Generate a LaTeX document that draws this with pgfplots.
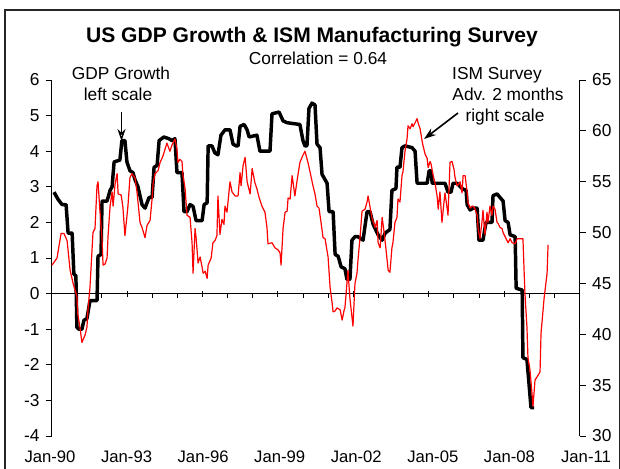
\documentclass[border=0pt]{standalone}
\usepackage{fontspec}
\setmainfont{Liberation Sans}
\usepackage{pgfplots}
\usepackage{pgfplotstable}
\pgfplotsset{compat=1.18}
\usetikzlibrary{arrows.meta}
\definecolor{ismred}{RGB}{255,0,0}

\pgfplotstableread{
t v
1990.10 2.85
1990.26 2.65
1990.42 2.50
1990.58 2.50
1990.66 1.70
1990.82 1.70
1990.89 0.55
1990.97 0.50
1991.01 -0.95
1991.09 -1.00
1991.21 -1.00
1991.29 -0.75
1991.41 -0.70
1991.53 -0.20
1991.81 -0.20
1991.85 1.05
1991.97 1.10
1992.01 2.60
1992.21 2.60
1992.33 2.90
1992.41 3.00
1992.49 3.70
1992.72 3.75
1992.80 4.30
1992.92 4.30
1993.00 3.70
1993.12 3.45
1993.24 3.40
1993.32 3.20
1993.44 3.00
1993.60 2.50
1993.72 2.40
1993.80 2.55
1993.88 2.70
1994.00 2.70
1994.08 3.55
1994.20 3.60
1994.28 4.30
1994.47 4.40
1994.67 4.35
1994.79 4.30
1994.91 4.35
1994.99 3.40
1995.19 3.40
1995.27 2.30
1995.39 2.30
1995.51 2.50
1995.63 2.45
1995.75 2.05
1995.99 2.05
1996.07 2.50
1996.19 2.55
1996.23 4.15
1996.38 4.15
1996.50 3.95
1996.62 3.90
1996.74 4.45
1996.90 4.60
1997.10 4.60
1997.22 4.20
1997.34 4.15
1997.42 4.15
1997.50 4.70
1997.66 4.75
1997.78 4.60
1997.86 4.40
1998.17 4.45
1998.29 4.00
1998.69 4.00
1998.77 5.05
1999.05 5.10
1999.21 4.85
1999.37 4.80
1999.88 4.75
2000.00 4.30
2000.08 4.15
2000.16 4.15
2000.24 5.20
2000.36 5.35
2000.48 5.30
2000.56 4.20
2000.68 4.10
2000.76 3.35
2000.96 3.10
2001.04 2.30
2001.20 2.30
2001.28 1.10
2001.40 1.05
2001.52 0.75
2001.67 0.70
2001.75 0.40
2001.87 0.40
2001.95 1.50
2002.07 1.60
2002.19 1.60
2002.39 1.50
2002.55 2.30
2002.67 2.30
2002.79 1.95
2002.99 1.65
2003.15 1.50
2003.27 1.70
2003.46 1.80
2003.54 2.90
2003.70 2.95
2003.74 3.55
2003.86 3.55
2003.94 4.10
2004.06 4.15
2004.34 4.10
2004.46 4.00
2004.54 3.10
2004.94 3.10
2005.02 3.45
2005.10 3.45
2005.14 3.10
2005.65 3.10
2005.77 2.85
2005.89 2.85
2005.97 3.10
2006.13 3.10
2006.33 2.95
2006.49 2.90
2006.53 2.50
2006.65 2.35
2006.77 2.40
2006.93 2.40
2007.00 1.50
2007.16 1.50
2007.28 2.00
2007.52 2.00
2007.56 2.75
2007.72 2.80
2007.96 2.60
2008.04 2.05
2008.16 2.00
2008.24 1.65
2008.44 1.60
2008.48 0.15
2008.72 0.10
2008.75 -1.80
2008.91 -1.85
2009.07 -3.20
2009.19 -3.20
}\gdp

\pgfplotstableread{
t v
1990.02 46.8
1990.22 47.5
1990.38 49.9
1990.50 49.9
1990.62 49.2
1990.74 46.3
1990.86 45.0
1991.01 43.7
1991.05 41.9
1991.13 40.7
1991.21 39.2
1991.33 39.9
1991.41 40.7
1991.45 42.4
1991.53 44.6
1991.65 50.0
1991.73 50.4
1991.81 54.6
1991.85 55.0
1991.93 52.0
1992.01 49.4
1992.05 46.8
1992.13 46.9
1992.21 47.5
1992.25 49.7
1992.33 52.6
1992.41 54.0
1992.45 52.6
1992.53 54.8
1992.61 55.8
1992.65 53.8
1992.77 53.7
1992.84 52.5
1992.92 49.7
1993.00 51.6
1993.04 52.6
1993.12 55.4
1993.20 55.8
1993.32 55.4
1993.40 54.0
1993.44 53.0
1993.52 51.0
1993.60 50.5
1993.72 49.5
1993.80 50.7
1993.92 51.2
1994.00 53.3
1994.04 54.8
1994.12 55.8
1994.24 56.1
1994.32 56.9
1994.43 57.5
1994.59 58.8
1994.71 58.0
1994.79 58.6
1994.91 59.2
1994.99 58.2
1995.03 56.9
1995.11 57.2
1995.19 57.0
1995.23 55.6
1995.31 54.4
1995.39 51.7
1995.51 51.5
1995.59 49.0
1995.63 46.0
1995.71 50.4
1995.75 49.5
1995.83 47.0
1995.91 47.6
1995.99 46.6
1996.03 46.0
1996.11 46.2
1996.19 45.5
1996.23 46.8
1996.35 47.5
1996.42 49.0
1996.50 49.2
1996.58 49.7
1996.62 53.6
1996.70 49.8
1996.78 51.3
1996.86 50.8
1996.90 52.6
1996.98 52.0
1997.10 55.0
1997.18 54.0
1997.30 53.6
1997.42 53.6
1997.50 55.9
1997.54 54.6
1997.62 56.6
1997.70 57.4
1997.78 55.0
1997.90 53.8
1997.98 56.3
1998.09 54.9
1998.17 54.3
1998.25 53.5
1998.37 52.6
1998.49 52.0
1998.57 50.5
1998.61 48.9
1998.77 49.0
1998.89 48.5
1999.01 48.3
1999.09 48.0
1999.13 46.8
1999.21 50.4
1999.29 52.0
1999.37 52.1
1999.41 53.4
1999.49 53.3
1999.57 55.6
1999.68 53.6
1999.76 55.0
1999.88 56.9
2000.00 57.6
2000.08 58.0
2000.20 56.9
2000.28 56.0
2000.40 54.6
2000.48 53.8
2000.56 52.6
2000.64 52.4
2000.72 51.0
2000.80 49.5
2000.88 49.4
2001.00 47.6
2001.08 44.6
2001.16 43.1
2001.20 42.2
2001.28 42.3
2001.36 42.6
2001.48 42.4
2001.56 41.4
2001.64 42.4
2001.67 42.6
2001.75 45.0
2001.79 46.3
2001.87 43.5
2001.99 40.8
2002.07 45.0
2002.15 46.0
2002.19 47.3
2002.27 49.5
2002.35 52.1
2002.47 52.3
2002.55 53.0
2002.59 53.6
2002.67 52.5
2002.75 51.4
2002.87 50.5
2002.95 51.2
2002.99 49.0
2003.07 48.5
2003.15 51.5
2003.23 50.0
2003.31 48.2
2003.39 46.3
2003.46 46.1
2003.54 48.5
2003.58 49.0
2003.66 51.0
2003.74 51.5
2003.78 53.3
2003.86 53.0
2003.94 55.6
2003.98 56.0
2004.06 58.0
2004.14 59.2
2004.18 60.5
2004.26 60.2
2004.34 60.7
2004.38 60.4
2004.46 60.8
2004.54 61.2
2004.58 60.8
2004.66 60.2
2004.74 59.0
2004.78 58.5
2004.86 57.7
2004.94 57.3
2004.98 56.4
2005.06 57.0
2005.10 56.7
2005.18 55.6
2005.26 54.8
2005.34 53.5
2005.38 52.3
2005.45 54.0
2005.53 51.0
2005.61 53.0
2005.65 53.9
2005.73 52.5
2005.77 51.7
2005.85 56.9
2005.93 57.0
2006.01 56.2
2006.05 55.4
2006.13 54.6
2006.21 54.8
2006.25 55.0
2006.33 53.9
2006.37 55.6
2006.45 55.6
2006.53 54.0
2006.57 52.9
2006.65 52.4
2006.73 52.6
2006.77 52.6
2006.85 52.3
2006.93 51.7
2006.97 50.4
2007.04 49.4
2007.12 51.0
2007.16 52.2
2007.24 49.8
2007.32 52.0
2007.36 51.0
2007.44 52.6
2007.52 51.7
2007.56 52.6
2007.64 52.3
2007.72 51.0
2007.76 50.9
2007.84 50.5
2007.92 50.4
2007.96 50.0
2008.04 49.6
2008.12 49.2
2008.16 49.0
2008.24 49.4
2008.32 49.0
2008.44 48.9
2008.52 49.4
2008.64 49.4
2008.75 49.4
2008.83 44.0
2008.91 40.7
2008.95 37.7
2009.03 36.5
2009.11 34.2
2009.15 32.9
2009.23 35.5
2009.31 35.8
2009.43 36.3
2009.47 40.1
2009.59 43.5
2009.71 46.0
2009.75 48.8
}\ism

\pgfplotsset{
  base/.style={
    at={(38.625pt,24pt)}, anchor=south west,
    scale only axis, width=396pt, height=267pt,
    xmin=1990, xmax=2011,
    axis line style={line width=0.6pt, black},
    tick style={line width=0.6pt, black},
    /pgf/number format/assume math mode=true,
    ticklabel style={font=\fontsize{13}{15}\selectfont},
  }
}

\begin{document}
\begin{tikzpicture}[x=0.75pt,y=0.75pt]
\useasboundingbox (0,0) rectangle (620,468);
\draw[line width=0.8pt, black!85] (5,-10) -- (5,458) -- (619.3,458) -- (619.3,-10);

% left axis: GDP growth
\begin{axis}[base,
  ymin=-4, ymax=6,
  axis y line*=left, axis x line*=middle,
  hide obscured x ticks=false, hide obscured y ticks=false,
  ytick={-4,-3,...,6},
  yticklabel style={/pgf/number format/fixed, xshift=-1pt},
  ytick align=outside, xtick align=center,
  major tick length=4.5pt,
  xtick={1990,1993,...,2011}, xticklabels={},
  extra x ticks={1991,1992,1994,1995,1997,1998,2000,2001,2003,2004,2006,2007,2009,2010},
  extra x tick labels={},
  extra x tick style={xtick align=outside, major tick length=3pt},
]
\addplot[black, line width=2.6pt, line join=round] table[x=t, y=v] {\gdp};
\end{axis}

% right axis: ISM
\begin{axis}[base,
  ymin=30, ymax=65,
  axis y line*=right, axis x line=none,
  ytick={30,35,...,65},
  yticklabel style={xshift=1.5pt},
  ytick align=outside, major tick length=4.5pt,
  xtick=\empty,
]
\addplot[ismred, line width=0.9pt, line join=round] table[x=t, y=v] {\ism};
\end{axis}

% x labels (Excel spaces them slightly wider than the ticks)
\begin{axis}[
  at={(37.5pt,24pt)}, anchor=south west,
  scale only axis, width=402pt, height=267pt,
  xmin=1990, xmax=2011, ymin=0, ymax=1,
  axis y line=none, axis x line*=bottom,
  x axis line style={draw=none},
  major tick length=0pt,
  xtick={1990,1993,...,2011},
  xticklabels={Jan-90,Jan-93,Jan-96,Jan-99,Jan-02,Jan-05,Jan-08,Jan-11},
  xticklabel style={anchor=base, yshift=-20pt, font=\fontsize{12.5}{15}\selectfont},
]
\end{axis}

\node[anchor=base, font=\fontsize{15.8}{18}\selectfont\bfseries] at (312,425) {US GDP Growth \& ISM Manufacturing Survey};
\node[anchor=base, font=\fontsize{13}{15}\selectfont] at (318,403) {Correlation = 0.64};
\node[anchor=base, font=\fontsize{13}{15}\selectfont] at (121,388) {GDP Growth};
\node[anchor=base, font=\fontsize{13}{15}\selectfont] at (118,367) {left scale};
\node[anchor=base, font=\fontsize{13}{15}\selectfont] at (497,388) {ISM Survey};
\node[anchor=base, font=\fontsize{13}{15}\selectfont] at (508,367) {Adv. 2 months};
\node[anchor=base, font=\fontsize{13}{15}\selectfont] at (505,346) {right scale};
\draw[line width=1pt, -{Stealth[length=9pt, width=6pt, open]}] (121.5,356) -- (121.5,327);
\draw[line width=1.2pt, -{Stealth[length=9pt, width=6pt]}] (458,355) -- (424,329);
\end{tikzpicture}
\end{document}
